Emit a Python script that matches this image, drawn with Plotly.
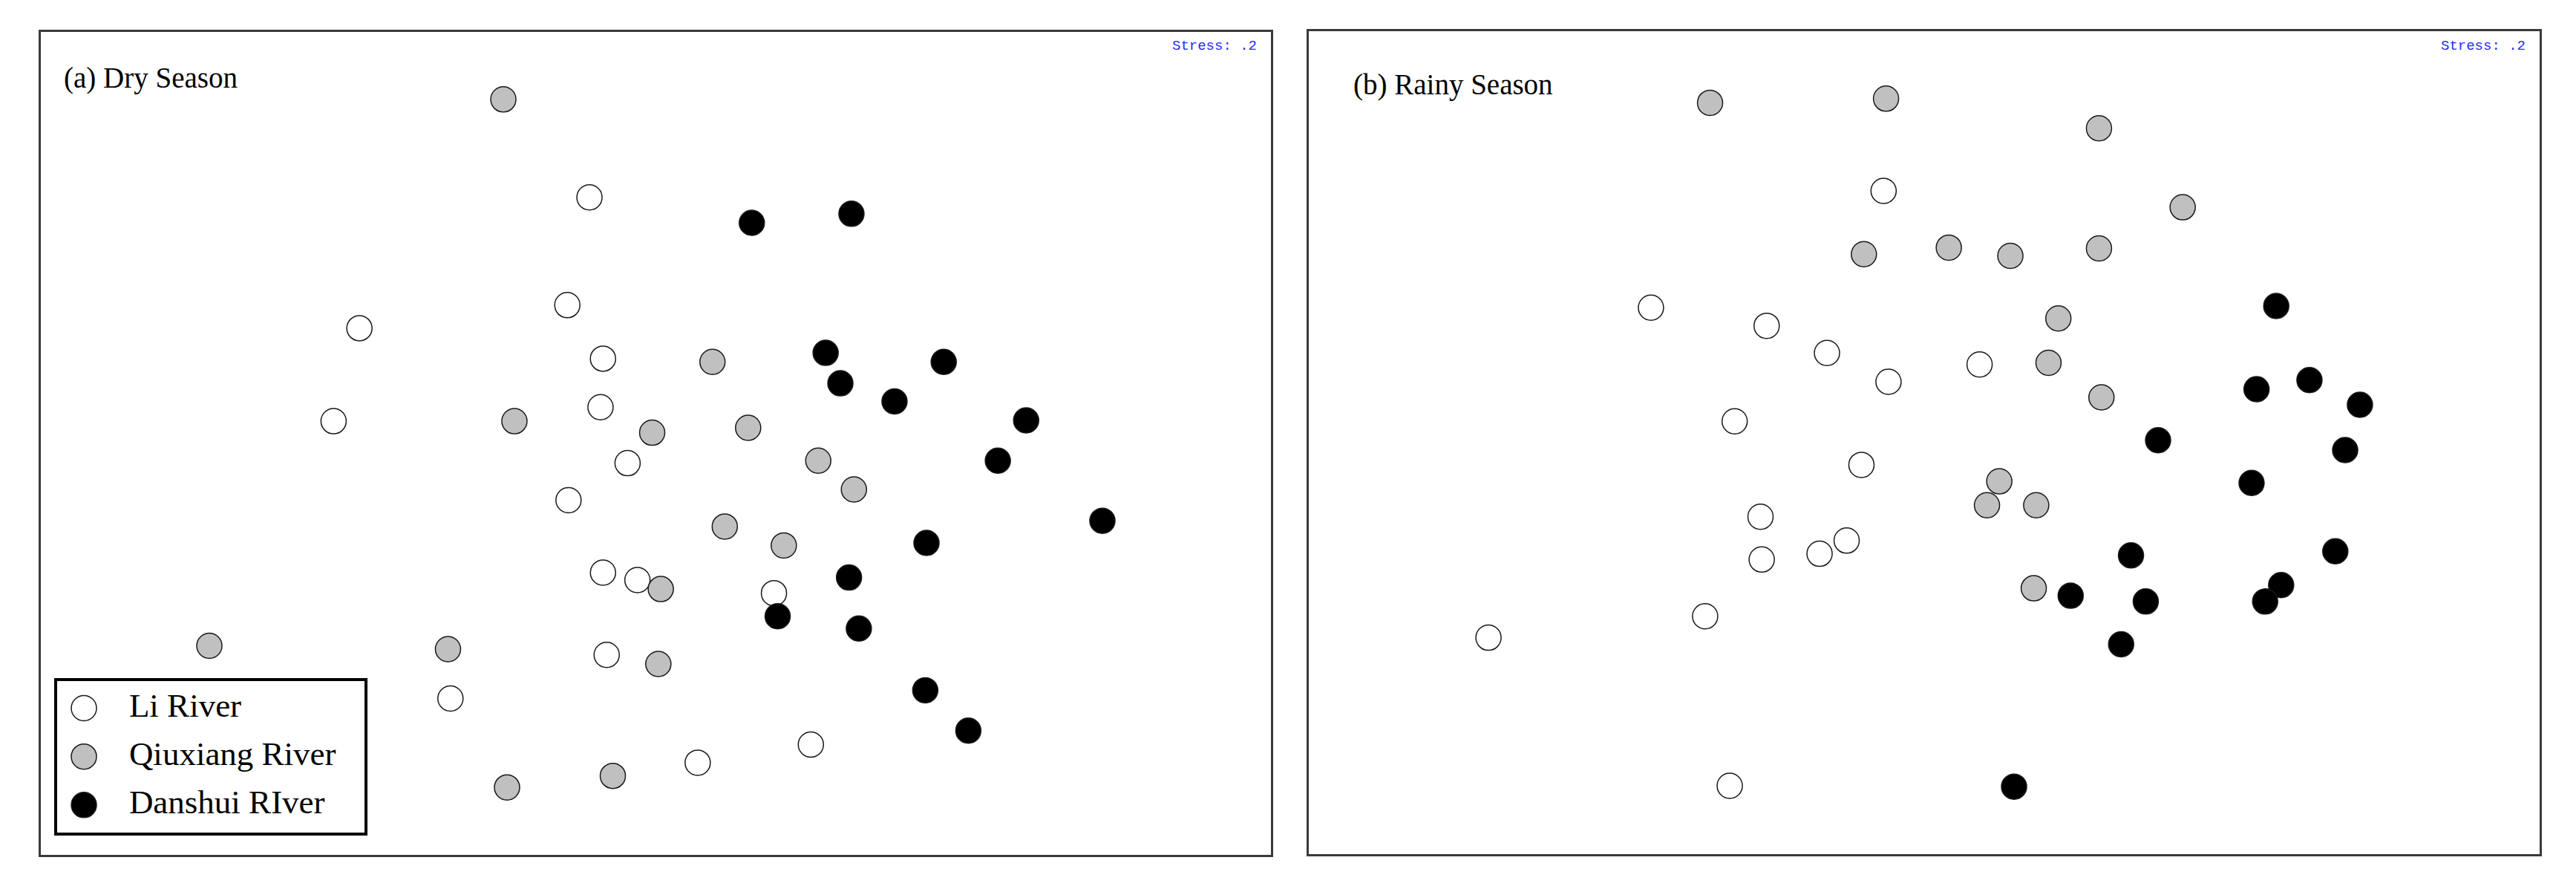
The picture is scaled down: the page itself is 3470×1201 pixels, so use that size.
"""
Diagramas NMDS - estação seca e chuvosa
Três grupos de pontos (Li, Qiuxiang, Danshui) em dois painéis lado a lado
"""

import plotly.graph_objects as go

W, H = 3470, 1201
OFF = 8  # margem do body da página html

# Estação seca (a) - coordenadas NMDS (0-100)
dry_li_x = [44.6, 42.8, 25.9, 45.7, 23.8, 45.5, 47.7, 42.9, 45.7, 48.5, 59.6, 46.0, 33.3, 62.6, 53.4]
dry_li_y = [79.9, 66.8, 64.0, 60.3, 52.7, 54.4, 47.6, 43.1, 34.3, 33.4, 31.8, 24.3, 19.0, 13.4, 11.2]
dry_qx_x = [37.6, 54.6, 38.5, 49.7, 57.5, 63.2, 66.1, 55.6, 60.4, 50.4, 13.7, 33.1, 50.2, 46.5, 37.9]
dry_qx_y = [91.8, 59.9, 52.7, 51.3, 51.9, 47.9, 44.4, 39.9, 37.6, 32.3, 25.4, 25.0, 23.2, 9.6, 8.2]
dry_ds_x = [57.8, 65.9, 63.8, 73.4, 65.0, 69.4, 80.1, 77.8, 86.3, 72.0, 65.7, 59.9, 66.5, 71.9, 75.4]
dry_ds_y = [76.8, 77.9, 61.0, 59.9, 57.3, 55.1, 52.8, 47.9, 40.6, 37.9, 33.7, 29.0, 27.5, 20.0, 15.1]

# Estação chuvosa (b)
wet_li_x = [46.7, 27.8, 37.2, 42.1, 47.1, 54.5, 34.6, 44.9, 36.7, 36.8, 41.5, 43.7, 32.2, 14.6, 34.2]
wet_li_y = [80.6, 66.4, 64.2, 60.9, 57.4, 59.5, 52.6, 47.3, 41.0, 35.8, 36.5, 38.1, 28.9, 26.3, 8.3]
wet_qx_x = [32.6, 46.9, 64.2, 71.0, 45.1, 52.0, 57.0, 64.2, 60.9, 60.1, 64.4, 56.1, 55.1, 59.1, 58.9]
wet_qx_y = [91.3, 91.8, 88.2, 78.6, 72.9, 73.7, 72.7, 73.6, 65.1, 59.7, 55.5, 45.3, 42.4, 42.4, 32.3]
wet_ds_x = [78.6, 77.0, 81.3, 85.4, 69.0, 84.2, 76.6, 66.8, 83.4, 79.0, 77.7, 61.9, 68.0, 66.0, 57.3]
wet_ds_y = [66.6, 56.5, 57.6, 54.6, 50.3, 49.1, 45.1, 36.3, 36.8, 32.7, 30.7, 31.4, 30.7, 25.5, 8.2]

grupos = ['Li River', 'Qiuxiang River', 'Danshui RIver']
cores = ['#ffffff', '#c0c0c0', '#000000']
paineis = ['(a) Dry Season', '(b) Rainy Season']
stress = 'Stress: .2'

SERIF = 'Liberation Serif, Times New Roman, serif'
MSIZE = 34


def px(x):
    return (x - OFF) / W


def py(y):
    return 1 - (y - OFF) / H


fig = go.Figure()

dados = [
    ('x', 'y', [(dry_li_x, dry_li_y), (dry_qx_x, dry_qx_y), (dry_ds_x, dry_ds_y)]),
    ('x2', 'y2', [(wet_li_x, wet_li_y), (wet_qx_x, wet_qx_y), (wet_ds_x, wet_ds_y)]),
]

for xa, ya, series in dados:
    for (xs, ys), nome, cor in zip(series, grupos, cores):
        fig.add_trace(go.Scatter(
            x=xs, y=ys, xaxis=xa, yaxis=ya,
            mode='markers', name=nome, showlegend=False,
            marker=dict(size=MSIZE, color=cor, line=dict(color='#1a1a1a', width=1.5)),
        ))

# Legenda desenhada num eixo próprio (caixa no canto inferior esquerdo do painel a)
leg_pos = [1, 2, 3]
fig.add_trace(go.Scatter(
    x=[0.087] * 3, y=leg_pos, xaxis='x3', yaxis='y3',
    mode='markers', showlegend=False, hoverinfo='skip',
    marker=dict(size=MSIZE, color=cores, line=dict(color='#1a1a1a', width=1.5)),
))
fig.add_trace(go.Scatter(
    x=[0.234] * 3, y=leg_pos, xaxis='x3', yaxis='y3',
    mode='text', text=grupos, textposition='middle right', showlegend=False,
    hoverinfo='skip', textfont=dict(family=SERIF, size=45, color='black'),
))

frame = dict(showline=True, mirror=True, linecolor='#3a3a3a', linewidth=2.5,
             showgrid=False, zeroline=False, showticklabels=False, ticks='')

fig.update_layout(
    width=W, height=H,
    margin=dict(l=0, r=0, t=0, b=0),
    paper_bgcolor='white', plot_bgcolor='white',
    showlegend=False,
    xaxis=dict(domain=[px(55), px(1712)], range=[0, 100], **frame),
    yaxis=dict(domain=[py(1151), py(43)], range=[0, 100], **frame),
    xaxis2=dict(domain=[px(1763), px(3421)], range=[0, 100], anchor='y2', **frame),
    yaxis2=dict(domain=[py(1150), py(42)], range=[0, 100], anchor='x2', **frame),
    xaxis3=dict(domain=[px(77), px(491)], range=[0, 1], anchor='y3',
                **{**frame, 'linecolor': 'black', 'linewidth': 4}),
    yaxis3=dict(domain=[py(1121), py(917)], range=[3.57, 0.44], anchor='x3',
                **{**frame, 'linecolor': 'black', 'linewidth': 4}),
)

# Títulos dos painéis
fig.add_annotation(text=paineis[0], xref='paper', yref='paper', x=px(84), y=py(105),
                   xanchor='left', yanchor='middle', showarrow=False,
                   font=dict(family=SERIF, size=39, color='black'))
fig.add_annotation(text=paineis[1], xref='paper', yref='paper', x=px(1821), y=py(114),
                   xanchor='left', yanchor='middle', showarrow=False,
                   font=dict(family=SERIF, size=39, color='black'))

# Stress
for xr in (1695, 3404):
    fig.add_annotation(text=stress, xref='paper', yref='paper', x=px(xr), y=py(62),
                       xanchor='right', yanchor='middle', showarrow=False,
                       font=dict(family='Liberation Mono, DejaVu Sans Mono, monospace',
                                 size=19, color='#2a2aff'))

fig.write_html("out.html")
